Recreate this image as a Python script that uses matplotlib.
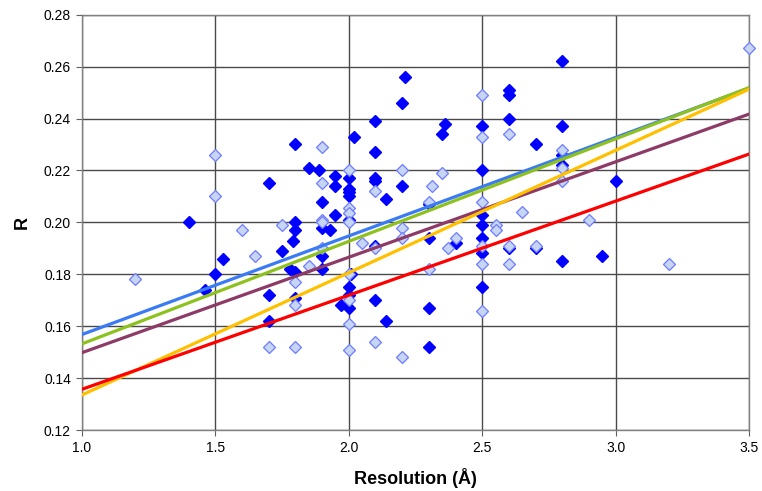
import matplotlib
matplotlib.use('Agg')
import matplotlib.pyplot as plt

plt.rcParams['font.family'] = ['Liberation Sans', 'DejaVu Sans']

# filled (dark blue) diamonds
dark_res = [1.40, 1.46, 1.50, 1.53, 1.70, 1.70, 1.70, 1.75, 1.78, 1.79,
            1.80, 1.80, 1.80, 1.80, 1.80, 1.85, 1.89, 1.90, 1.90, 1.90,
            1.90, 1.93, 1.95, 1.95, 1.95, 1.97, 2.00, 2.00, 2.00, 2.00,
            2.00, 2.01, 2.00, 2.00, 2.00, 2.02, 2.10, 2.10, 2.10, 2.10,
            2.10, 2.10, 2.14, 2.14, 2.20, 2.21, 2.20, 2.30, 2.30, 2.30,
            2.30, 2.35, 2.36, 2.40, 2.50, 2.50, 2.50, 2.50, 2.50, 2.50,
            2.50, 2.60, 2.60, 2.60, 2.60, 2.70, 2.70, 2.80, 2.80, 2.80,
            2.80, 2.80, 2.95, 3.00]
dark_r = [0.200, 0.174, 0.180, 0.186, 0.215, 0.172, 0.162, 0.189, 0.182, 0.193,
          0.230, 0.200, 0.197, 0.181, 0.171, 0.221, 0.220, 0.208, 0.198, 0.187,
          0.182, 0.197, 0.218, 0.214, 0.203, 0.168, 0.217, 0.213, 0.2115, 0.210,
          0.201, 0.180, 0.175, 0.172, 0.167, 0.233, 0.239, 0.227, 0.217, 0.216,
          0.191, 0.170, 0.209, 0.162, 0.246, 0.256, 0.214, 0.207, 0.194, 0.167,
          0.152, 0.234, 0.238, 0.192, 0.237, 0.220, 0.203, 0.199, 0.194, 0.188,
          0.175, 0.251, 0.249, 0.240, 0.190, 0.230, 0.190, 0.262, 0.237, 0.226,
          0.222, 0.185, 0.187, 0.216]

# open (light blue) diamonds
light_res = [1.20, 1.50, 1.50, 1.60, 1.65, 1.70, 1.75, 1.80, 1.80, 1.80,
             1.85, 1.90, 1.90, 1.90, 1.90, 1.90, 2.00, 2.00, 2.00, 2.00,
             2.00, 2.00, 2.00, 2.00, 2.05, 2.10, 2.10, 2.10, 2.20, 2.20,
             2.20, 2.20, 2.31, 2.30, 2.30, 2.35, 2.37, 2.40, 2.50, 2.50,
             2.50, 2.50, 2.50, 2.50, 2.55, 2.55, 2.60, 2.60, 2.60, 2.65,
             2.70, 2.80, 2.80, 2.80, 2.90, 3.20, 3.50]
light_r = [0.178, 0.226, 0.210, 0.197, 0.187, 0.152, 0.199, 0.177, 0.168, 0.152,
           0.183, 0.229, 0.215, 0.201, 0.200, 0.190, 0.220, 0.2055, 0.2036, 0.200,
           0.180, 0.170, 0.161, 0.151, 0.192, 0.212, 0.190, 0.154, 0.220, 0.198,
           0.194, 0.148, 0.214, 0.208, 0.182, 0.219, 0.190, 0.194, 0.249, 0.233,
           0.208, 0.191, 0.184, 0.166, 0.199, 0.197, 0.234, 0.191, 0.184, 0.204,
           0.191, 0.228, 0.221, 0.216, 0.201, 0.184, 0.267]

# trend lines: value at x=1.0 and x=3.5
line_x = [1.0, 3.5]
blue_line = [0.1568, 0.2517]
green_line = [0.1532, 0.2519]
purple_line = [0.1498, 0.2417]
yellow_line = [0.1335, 0.2513]
red_line = [0.1357, 0.2263]

fig = plt.figure(figsize=(7.62, 4.91), dpi=100)
ax = fig.add_axes([0.1076, 0.1242, 0.8754, 0.8459])

ax.plot(dark_res, dark_r, linestyle='none', marker='D', markersize=5.9,
        color='#0000FF', markeredgecolor='#0000FF', zorder=3, clip_on=False)
ax.plot(light_res, light_r, linestyle='none', marker='D', markersize=5.9,
        markerfacecolor='#C5D5F3', markeredgecolor='#6F7BFF',
        markeredgewidth=0.9, zorder=3, clip_on=False)

ax.plot(line_x, blue_line, color='#3A7BF5', lw=2.3, zorder=4)
ax.plot(line_x, green_line, color='#8DC11E', lw=2.3, zorder=4)
ax.plot(line_x, purple_line, color='#8E3A66', lw=2.3, zorder=4)
ax.plot(line_x, yellow_line, color='#FFC000', lw=2.3, zorder=4)
ax.plot(line_x, red_line, color='#FF0000', lw=2.3, zorder=4)

ax.set_xlim(1.0, 3.5)
ax.set_ylim(0.12, 0.28)
ax.set_xticks([1.0, 1.5, 2.0, 2.5, 3.0, 3.5])
ax.set_xticklabels(['1.0', '1.5', '2.0', '2.5', '3.0', '3.5'])
ax.set_yticks([0.12, 0.14, 0.16, 0.18, 0.20, 0.22, 0.24, 0.26, 0.28])
ax.set_yticklabels(['0.12', '0.14', '0.16', '0.18', '0.20', '0.22',
                    '0.24', '0.26', '0.28'])
ax.grid(True, color='#4A4A4A', lw=1.0)
ax.set_axisbelow(True)
for sp in ax.spines.values():
    sp.set_color('#808080')
    sp.set_linewidth(1.0)
ax.tick_params(direction='out', length=4, width=0.8, color='#606060',
               labelsize=10, pad=4)

ax.set_xlabel('Resolution (Å)', fontsize=13, fontweight='bold', labelpad=9)
ax.set_ylabel('R', fontsize=13, fontweight='bold', labelpad=9)

fig.savefig('out.png', dpi=100)
